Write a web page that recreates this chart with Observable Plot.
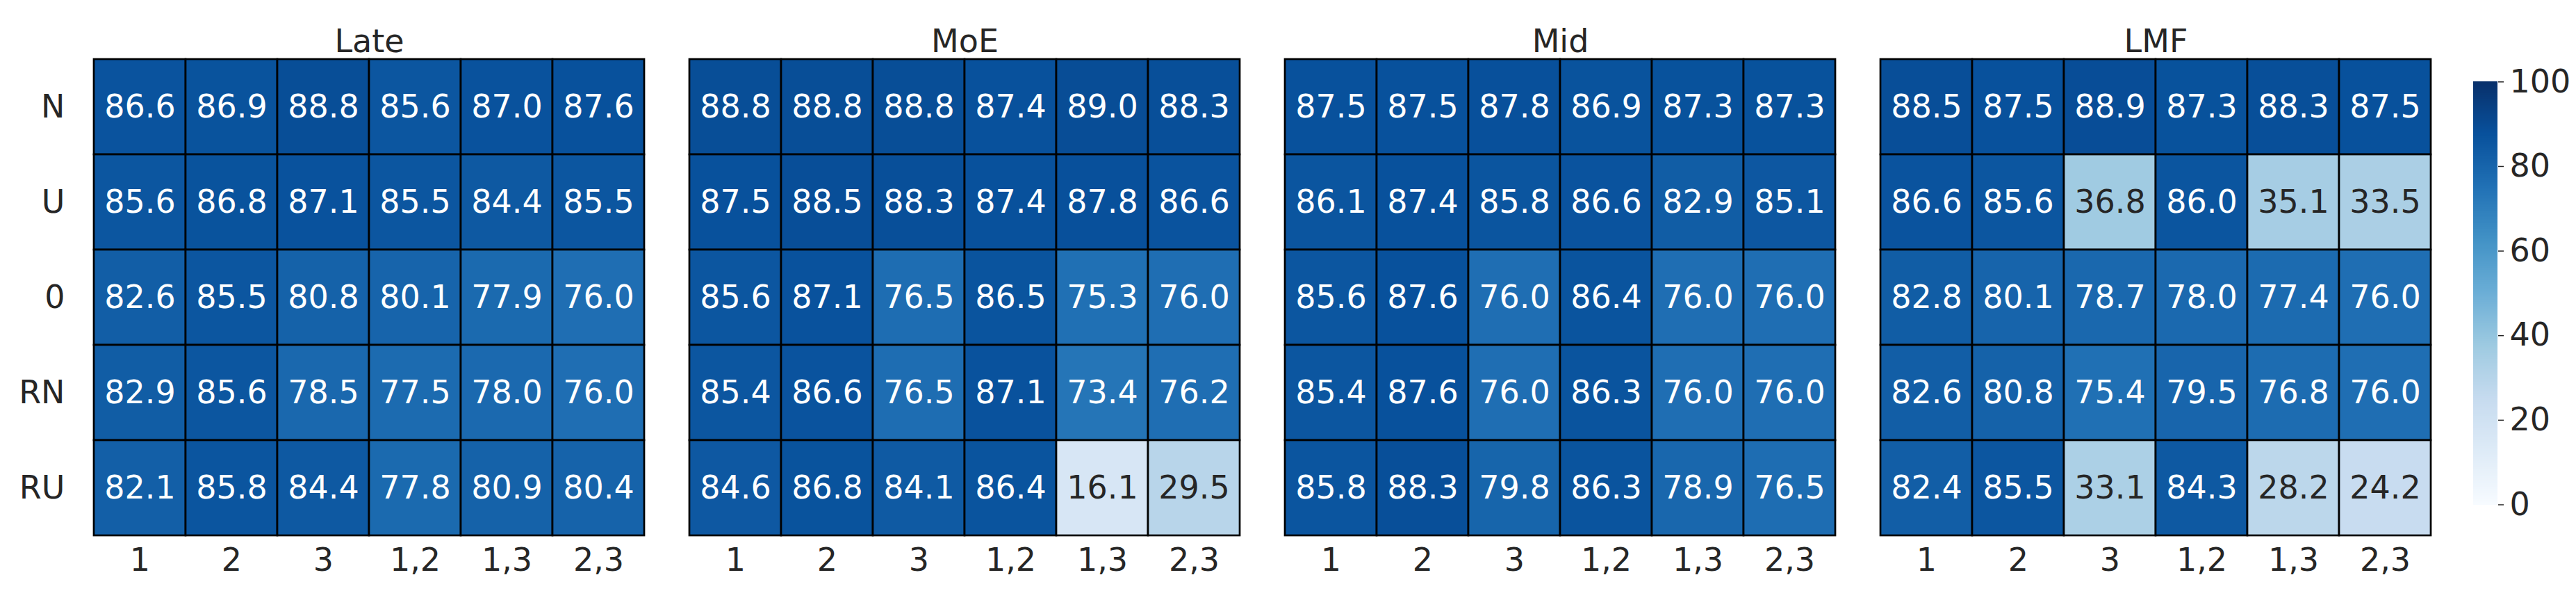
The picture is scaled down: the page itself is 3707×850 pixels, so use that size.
<!DOCTYPE html>
<html>
<head>
<meta charset="utf-8">
<script src="https://cdn.jsdelivr.net/npm/d3@7"></script>
<script src="https://cdn.jsdelivr.net/npm/@observablehq/plot@0.6"></script>
<style>
  html, body { margin: 0; padding: 0; background: #ffffff; }
  #wrap { position: relative; width: 3707px; height: 850px; font-family: "DejaVu Sans", sans-serif; }
  #wrap svg { position: absolute; top: 0; overflow: visible; }
</style>
</head>
<body>
<div id="wrap"></div>
<script>
// ---- data ----
const models = ["Late", "MoE", "Mid", "LMF"];
const rows = ["N", "U", "0", "RN", "RU"];
const cols = ["1", "2", "3", "1,2", "1,3", "2,3"];

const late = [
  [86.6, 86.9, 88.8, 85.6, 87.0, 87.6],
  [85.6, 86.8, 87.1, 85.5, 84.4, 85.5],
  [82.6, 85.5, 80.8, 80.1, 77.9, 76.0],
  [82.9, 85.6, 78.5, 77.5, 78.0, 76.0],
  [82.1, 85.8, 84.4, 77.8, 80.9, 80.4]
];
const moe = [
  [88.8, 88.8, 88.8, 87.4, 89.0, 88.3],
  [87.5, 88.5, 88.3, 87.4, 87.8, 86.6],
  [85.6, 87.1, 76.5, 86.5, 75.3, 76.0],
  [85.4, 86.6, 76.5, 87.1, 73.4, 76.2],
  [84.6, 86.8, 84.1, 86.4, 16.1, 29.5]
];
const mid = [
  [87.5, 87.5, 87.8, 86.9, 87.3, 87.3],
  [86.1, 87.4, 85.8, 86.6, 82.9, 85.1],
  [85.6, 87.6, 76.0, 86.4, 76.0, 76.0],
  [85.4, 87.6, 76.0, 86.3, 76.0, 76.0],
  [85.8, 88.3, 79.8, 86.3, 78.9, 76.5]
];
const lmf = [
  [88.5, 87.5, 88.9, 87.3, 88.3, 87.5],
  [86.6, 85.6, 36.8, 86.0, 35.1, 33.5],
  [82.8, 80.1, 78.7, 78.0, 77.4, 76.0],
  [82.6, 80.8, 75.4, 79.5, 76.8, 76.0],
  [82.4, 85.5, 33.1, 84.3, 28.2, 24.2]
];
const colorbarTicks = [0, 20, 40, 60, 80, 100];

// ---- colour scale (matplotlib "Blues", vmin 0, vmax 100) ----
const blues = ["#f7fbff", "#deebf7", "#c6dbef", "#9ecae1", "#6baed6", "#4292c6", "#2171b5", "#08519c", "#08306b"];
const bluesDomain = blues.map((_, i) => i * 100 / (blues.length - 1));
const colorFn = d3.scaleLinear().domain(bluesDomain).range(blues).interpolate(d3.interpolateRgb).clamp(true);
function luminance(c) {
  const rgb = d3.rgb(c);
  const f = v => { v /= 255; return v <= 0.03928 ? v / 12.92 : Math.pow((v + 0.055) / 1.055, 2.4); };
  return 0.2126 * f(rgb.r) + 0.7152 * f(rgb.g) + 0.0722 * f(rgb.b);
}

const tables = { Late: late, MoE: moe, Mid: mid, LMF: lmf };
const cells = [];
for (const m of models) {
  tables[m].forEach((r, i) => r.forEach((v, j) => {
    cells.push({ model: m, row: rows[i], col: cols[j], value: v, dark: luminance(colorFn(v)) > 0.408 });
  }));
}

const TEXT = "#262626";
const FS = 46;
const colorOpts = { type: "linear", domain: bluesDomain, range: blues, interpolate: "rgb", clamp: true };

const W = 3707, H = 850;
const main = Plot.plot({
  width: W,
  height: H,
  marginLeft: 132,
  marginRight: W - 3501.7,
  marginTop: 85,
  marginBottom: H - 770.7,
  style: { fontFamily: "DejaVu Sans", fontSize: FS + "px", color: TEXT, background: "transparent", overflow: "visible" },
  fx: { domain: models, paddingInner: 0.0706, paddingOuter: 0, axis: null, label: null },
  x: { domain: cols, padding: 0, label: null },
  y: { domain: rows, padding: 0, label: null },
  color: colorOpts,
  marks: [
    Plot.cell(cells, { fx: "model", x: "col", y: "row", fill: "value", stroke: "black", strokeWidth: 2.7, inset: 0 }),
    Plot.text(cells.filter(d => !d.dark), { fx: "model", x: "col", y: "row", text: d => d.value.toFixed(1), fill: "white", fontSize: FS }),
    Plot.text(cells.filter(d => d.dark), { fx: "model", x: "col", y: "row", text: d => d.value.toFixed(1), fill: TEXT, fontSize: FS }),
    Plot.text(models, { fx: d => d, text: d => d, frameAnchor: "top", lineAnchor: "middle", dy: -25, fontSize: FS, fill: TEXT }),
    Plot.axisX({ tickSize: 0, tickPadding: 17, fontSize: FS, fill: TEXT, label: null }),
    Plot.axisY({ tickSize: 0, tickPadding: 40, fontSize: FS, fill: TEXT, label: null })
  ]
});
main.style.left = "0px";

// ---- colour bar ----
const step = 0.25;
const grad = d3.range(0, 100, step);
const cbLeft = 3540, cbW = 167;
const cb = Plot.plot({
  width: cbW,
  height: H,
  marginLeft: 3559.3 - cbLeft,
  marginRight: cbW - (3594 - cbLeft),
  marginTop: 117.3,
  marginBottom: H - 725.5,
  style: { fontFamily: "DejaVu Sans", fontSize: FS + "px", color: TEXT, background: "transparent" },
  x: { domain: [0, 1], axis: null },
  y: { domain: [0, 100] },
  color: colorOpts,
  marks: [
    Plot.rect(grad, { x1: 0, x2: 1, y1: d => d, y2: d => d + step, fill: d => d + step / 2, shapeRendering: "crispEdges", inset: 0 }),
    Plot.axisY(colorbarTicks, { anchor: "right", tickSize: 8, tickPadding: 9, fontSize: FS, color: TEXT, strokeWidth: 1.5, label: null })
  ]
});
cb.style.left = cbLeft + "px";

const wrap = document.getElementById("wrap");
wrap.appendChild(main);
wrap.appendChild(cb);
</script>
</body>
</html>
